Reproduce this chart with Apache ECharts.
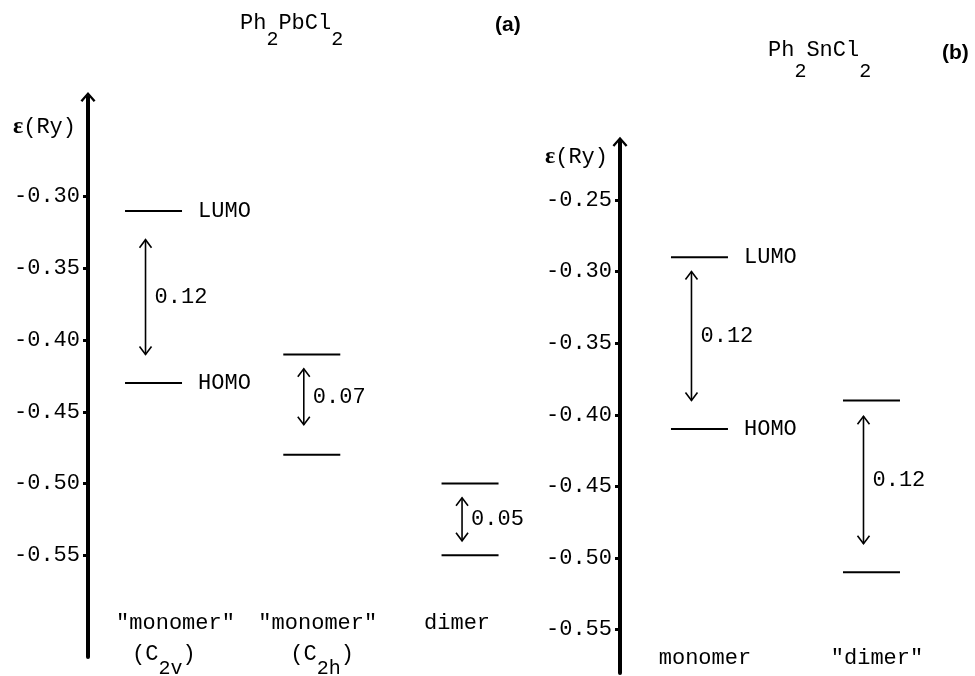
<!DOCTYPE html>
<html><head><meta charset="utf-8">
<script src="https://cdn.jsdelivr.net/npm/echarts@6/dist/echarts.min.js"></script>
<style>html,body{margin:0;padding:0;background:#fff}#c{width:975px;height:676px}</style>
</head><body><div id="c"></div>
<script>
// ---------- Panel (a): Ph2PbCl2 ----------
const catsA = ['"monomer"', '"monomer"', 'dimer'];
const groupA = [['C', '2v'], ['C', '2h'], null];
const lumoA = [-0.31, -0.41, -0.50];
const homoA = [-0.43, -0.48, -0.55];
const gapA = ['0.12', '0.07', '0.05'];
const arrowTopA = [-0.330, -0.420, -0.510];
const arrowBotA = [-0.410, -0.459, -0.540];
const ticksA = [-0.30, -0.35, -0.40, -0.45, -0.50, -0.55];

// ---------- Panel (b): Ph2SnCl2 ----------
const catsB = ['monomer', '"dimer"'];
const groupB = [null, null];
const lumoB = [-0.29, -0.39];
const homoB = [-0.41, -0.51];
const gapB = ['0.12', '0.12'];
const arrowTopB = [-0.300, -0.401];
const arrowBotB = [-0.390, -0.490];
const ticksB = [-0.25, -0.30, -0.35, -0.40, -0.45, -0.50, -0.55];

const FONT = 'Liberation Mono';
const FS = 22;

// axis extents
const yA = {min: -0.621, max: -0.2305};
const yB = {min: -0.5803, max: -0.2093};
const xA = {min: -0.414, max: 2.6};
const xB = {min: -0.462, max: 1.5};

function rows(n, lumo, homo, top, bot) {
  const r = [];
  for (let i = 0; i < n; i++) r.push([i, lumo[i], homo[i], top[i], bot[i]]);
  return r;
}

function txt(x, y, text, align, extra) {
  return {type: 'text', style: Object.assign({
    x: x, y: y, text: text, fill: '#000', fontFamily: FONT, fontSize: FS,
    align: align || 'left', verticalAlign: 'middle'
  }, extra || {})};
}

function levelRenderer(cfg) {
  return function (params, api) {
    const i = params.dataIndex;
    const xv = api.value(0);
    const pL = api.coord([xv, api.value(1)]);
    const pH = api.coord([xv, api.value(2)]);
    const pT = api.coord([xv, api.value(3)]);
    const pB = api.coord([xv, api.value(4)]);
    const cx = pL[0];
    const hw = 28.5, ax = cx - 8, hx = 6, hy = 8;
    const ls = {stroke: '#000', lineWidth: 2};
    const as = {stroke: '#000', lineWidth: 1.6, fill: null};
    const ch = [
      {type: 'line', shape: {x1: cx - hw, y1: pL[1], x2: cx + hw, y2: pL[1]}, style: ls},
      {type: 'line', shape: {x1: cx - hw, y1: pH[1], x2: cx + hw, y2: pH[1]}, style: ls},
      {type: 'line', shape: {x1: ax, y1: pT[1], x2: ax, y2: pB[1]}, style: as},
      {type: 'polyline', shape: {points: [[ax - hx, pT[1] + hy], [ax, pT[1]], [ax + hx, pT[1] + hy]]}, style: as},
      {type: 'polyline', shape: {points: [[ax - hx, pB[1] - hy], [ax, pB[1]], [ax + hx, pB[1] - hy]]}, style: as},
      txt(ax + 9, (pT[1] + pB[1]) / 2, cfg.gap[i], 'left')
    ];
    if (i === 0) {
      ch.push(txt(cx + hw + 16, pL[1], 'LUMO', 'left'));
      ch.push(txt(cx + hw + 16, pH[1], 'HOMO', 'left'));
    }
    const yb = api.coord([xv, cfg.yMin])[1] + cfg.labelDy;
    ch.push(txt(cx + cfg.labelDx[i], yb, cfg.cats[i], 'center'));
    const g = cfg.group[i];
    if (g) {
      ch.push(txt(cx - 21.5, yb + 31, '{m|(' + g[0] + '}{s|' + g[1] + '}{m|)}', 'left', {
        rich: {
          m: {fontFamily: FONT, fontSize: FS, fill: '#000'},
          s: {fontFamily: FONT, fontSize: 20, fill: '#000', padding: [30, 0, 0, 0]}
        }
      }));
    }
    return {type: 'group', children: ch};
  };
}

function yAxisCfg(grid, ext, ticks, nameGap) {
  return {
    gridIndex: grid, type: 'value', min: ext.min, max: ext.max, position: 'left',
    name: '{e|ε}{n|(Ry)}', nameLocation: 'end', nameGap: nameGap,
    nameTextStyle: {
      align: 'right', verticalAlign: 'middle', padding: [0, 12, 0, 0],
      rich: {
        e: {fontFamily: 'Liberation Serif', fontWeight: 'bold', fontSize: 24, color: '#000'},
        n: {fontFamily: FONT, fontSize: FS, color: '#000'}
      }
    },
    axisLine: {show: true, onZero: false, lineStyle: {color: '#000', width: 4},
      symbol: ['none', 'path://M0,8 L7,0 L14,8 L12.3,9.3 L7,3 L1.7,9.3 Z'],
      symbolSize: [15, 10], symbolOffset: [0, 0]},
    axisTick: {show: true, length: 5, customValues: ticks, lineStyle: {color: '#000', width: 3}},
    axisLabel: {show: true, customValues: ticks, margin: 8, color: '#000',
      fontFamily: FONT, fontSize: FS, formatter: v => v.toFixed(2)},
    splitLine: {show: false}
  };
}

function sub(shift) {
  return {
    m: {fontFamily: FONT, fontSize: FS, fill: '#000'},
    s: {fontFamily: FONT, fontSize: 20, fill: '#000', padding: [shift * 2, 0, 0, 0]}
  };
}

const chart = echarts.init(document.getElementById('c'), null, {renderer: 'canvas'});
chart.setOption({
  animation: false,
  backgroundColor: '#fff',
  grid: [
    {left: 88, top: 97, width: 477, height: 560},
    {left: 620, top: 141.7, width: 337.5, height: 531.3}
  ],
  xAxis: [
    {gridIndex: 0, type: 'value', min: xA.min, max: xA.max, show: false},
    {gridIndex: 1, type: 'value', min: xB.min, max: xB.max, show: false}
  ],
  yAxis: [yAxisCfg(0, yA, ticksA, -30), yAxisCfg(1, yB, ticksB, -15)],
  graphic: [
    {type: 'text', x: 240, y: 23.5, style: {text: '{m|Ph}{s|2}{m|PbCl}{s|2}', verticalAlign: 'middle', rich: sub(16.5)}},
    {type: 'text', x: 495, y: 25, style: {text: '(a)', fill: '#000', fontFamily: 'Liberation Sans', fontWeight: 'bold', fontSize: 21, verticalAlign: 'middle'}},
    {type: 'text', x: 768, y: 50, style: {text: '{m|Ph}{s|2}{m|SnCl}{s|2}', verticalAlign: 'middle', rich: sub(22)}},
    {type: 'text', x: 942, y: 53, style: {text: '(b)', fill: '#000', fontFamily: 'Liberation Sans', fontWeight: 'bold', fontSize: 21, verticalAlign: 'middle'}}
  ],
  series: [
    {type: 'custom', xAxisIndex: 0, yAxisIndex: 0, clip: false, silent: true,
      data: rows(catsA.length, lumoA, homoA, arrowTopA, arrowBotA),
      renderItem: levelRenderer({gap: gapA, cats: catsA, group: groupA, yMin: yA.min, labelDy: -34, labelDx: [22, 6, -13]})},
    {type: 'custom', xAxisIndex: 1, yAxisIndex: 1, clip: false, silent: true,
      data: rows(catsB.length, lumoB, homoB, arrowTopB, arrowBotB),
      renderItem: levelRenderer({gap: gapB, cats: catsB, group: groupB, yMin: yB.min, labelDy: -15, labelDx: [5.5, 5.5]})}
  ]
});
</script>
</body></html>
